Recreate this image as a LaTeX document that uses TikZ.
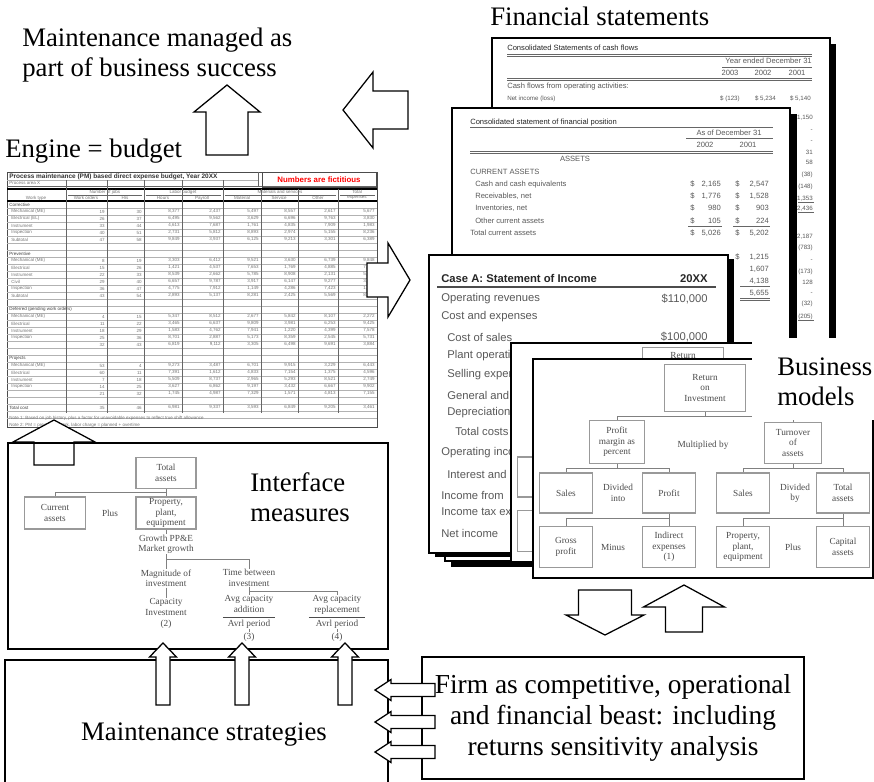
\documentclass[tikz,border=0pt]{standalone}
\usepackage{fontspec}
\setmainfont{Liberation Serif}
\setsansfont{Liberation Sans}
\usetikzlibrary{positioning,calc}

\tikzset{
  bigtext/.style={font=\fontsize{19}{21.5}\selectfont, inner sep=0pt},
  panel/.style={draw, line width=1.3pt},
  sheet/.style={draw, line width=1.2pt, fill=white},
  blockarr/.style={draw, line width=0.9pt, fill=white},
  treebox/.style={draw=black!40, line width=1pt, fill=white, align=center,
    inner sep=1pt, minimum width=1.32cm, minimum height=1cm,
    font=\fontsize{6.6}{7.4}\selectfont, text=black!70},
  treetext/.style={align=center, inner sep=0.5pt,
    font=\fontsize{6.6}{7.4}\selectfont, text=black!70},
  treeline/.style={draw=black!50, line width=0.7pt},
  stmt/.style={font=\sffamily\fontsize{5.4}{6}\selectfont, text=black!65, inner sep=0pt},
  stmtsmall/.style={stmt, font=\sffamily\fontsize{4.4}{5}\selectfont},
  incline/.style={font=\sffamily\fontsize{8}{9}\selectfont, text=black!65, inner sep=0pt},
  cell/.style={font=\sffamily\fontsize{3.2}{3.6}\selectfont, text=black!55, inner sep=0pt},
  gridline/.style={draw=black!30, line width=0.3pt},
  colline/.style={draw=black!60, line width=0.4pt},
  pics/blockarrow/.style n args={4}{code={
    \draw[blockarr] (0,-#2/2) -- (#1-#4,-#2/2) -- (#1-#4,-#3/2) -- (#1,0)
      -- (#1-#4,#3/2) -- (#1-#4,#2/2) -- (0,#2/2) -- cycle;
  }},
  pics/bmpage/.style={code={
    \draw[sheet] (0,0) rectangle (340,219);
    \node[treebox, minimum width=2.02cm, minimum height=1.18cm] (-roi) at (172,29) {Return\\on\\Investment};
    \node[treebox, minimum width=1.38cm, minimum height=1.08cm] (-pm) at (84,83) {Profit\\margin as\\percent};
    \node[treetext] (-mult) at (170,86) {Multiplied by};
    \node[treebox, minimum width=1.42cm, minimum height=1.03cm] (-turn) at (260,84) {Turnover\\of\\assets};
    \node[treebox] (-sales) at (33,134) {Sales};
    \node[treetext] (-into) at (85,134) {Divided\\into};
    \node[treebox] (-profit) at (136,134) {Profit};
    \node[treebox] (-sales2) at (210,134) {Sales};
    \node[treetext] (-by) at (262,134) {Divided\\by};
    \node[treebox] (-total) at (310,134) {Total\\assets};
    \node[treebox, minimum height=1.03cm] (-gross) at (33,188) {Gross\\profit};
    \node[treetext] (-minus) at (80,188) {Minus};
    \node[treebox, minimum height=1.03cm] (-indir) at (136,188) {Indirect\\expenses\\(1)};
    \node[treebox, minimum height=1.03cm] (-ppe) at (210,188) {Property,\\plant,\\equipment};
    \node[treetext] (-plus) at (260,188) {Plus};
    \node[treebox, minimum height=1.03cm] (-cap) at (310,188) {Capital\\assets};
    \draw[treeline] (-roi.south) -- ++(0,4) coordinate (-j1);
    \draw[treeline] (-pm.north) |- (-j1) -| (-turn.north);
    \draw[treeline] (-pm.south) -- ++(0,4) coordinate (-j2);
    \draw[treeline] (-sales.north) |- (-j2) -| (-profit.north);
    \draw[treeline] (-turn.south) -- ++(0,4) coordinate (-j3);
    \draw[treeline] (-sales2.north) |- (-j3) -| (-total.north);
    \draw[treeline] (-profit.south) -- ++(0,5) coordinate (-j4);
    \draw[treeline] (-gross.north) |- (-j4) -| (-indir.north);
    \draw[treeline] (-total.south) -- ++(0,5) coordinate (-j5);
    \draw[treeline] (-ppe.north) |- (-j5) -| (-cap.north);
  }},
}

\begin{document}
\begin{tikzpicture}[x=0.025cm, y=-0.025cm]
\useasboundingbox (0,0) rectangle (874,782);

% headlines
\node[bigtext, align=left, anchor=west] (goal) at (22,55) {Maintenance managed as\\part of business success};
\node[bigtext, anchor=base west] (engine) at (5,157) {Engine = budget};
\node[bigtext, anchor=base west] (fintitle) at (490,26) {Financial statements};
\pic[rotate=90] at (227,155) {blockarrow={70}{42}{66}{27}};
\pic[rotate=180] at (408,110) {blockarrow={65}{38}{76}{30}};

% budget sheet
\draw[black!70, line width=0.5pt] (7,172) rectangle (377,427);
\foreach \r in {1,...,31} \draw[gridline] (7,201+7*\r) -- (377,201+7*\r);
\draw[gridline] (7,180) -- (258,180);
\draw[colline] (7,186) -- (377,186);
\draw[black, line width=0.8pt] (7,189) -- (377,189);
\draw[black, line width=0.8pt] (7,201) -- (377,201);
\foreach \cx in {66,107,144,182,223} \draw[colline] (\cx,180) -- (\cx,413);
\foreach \cx in {261,298,338} \draw[colline] (\cx,189) -- (\cx,413);
\draw[colline] (258,172) -- (258,186);
\foreach \xa/\xb in {68/142,146/221,225/336,340/375} \draw[colline] (\xa,195) -- (\xb,195);
\node[cell, font=\sffamily\bfseries\fontsize{4.6}{5}\selectfont, text=black!80, anchor=west] (sheettitle) at (9,176.5) {Process maintenance (PM) based direct expense budget, Year 20XX};
\node[cell, anchor=west] (sheetarea) at (9,183) {Process area X};
\node[draw=black!70, line width=0.6pt, minimum width=2.85cm, minimum height=0.38cm, inner sep=0pt,
  text=red, font=\sffamily\bfseries\fontsize{5.6}{6}\selectfont] (fict) at (319,180) {Numbers are fictitious};
\foreach \cx/\txt [count=\k] in {105/Number of jobs,183/Labor budget,280/Materials and services,357/Total}
  \node[cell] (grp-\k) at (\cx,192) {\txt};
\foreach \cx/\txt [count=\k] in {36/Work type / Process,86/Work orders,125/Hrs,163/Hours,202/Payroll,242/Material,279/Service,318/Other,357/expenses}
  \node[cell] (hdr-\k) at (\cx,198) {\txt};
\foreach \r/\txt in {0/Corrective,7/Preventive,15/Deferred (pending work orders),22/Projects,29/Total cost}
  \node[cell, text=black!75, anchor=west] (sec-\r) at (9,204.5+7*\r) {\txt};
\foreach \r/\txt in {1/Mechanical (ME),2/Electrical (EL),3/Instrument,4/Inspection,5/Subtotal,
  8/Mechanical (ME),9/Electrical,10/Instrument,11/Civil,12/Inspection,13/Subtotal,
  16/Mechanical (ME),17/Electrical,18/Instrument,19/Inspection,
  23/Mechanical (ME),24/Electrical,25/Instrument,26/Inspection}
  \node[cell, anchor=west] (lab-\r) at (11,204.5+7*\r) {\txt};
\foreach \r in {1,2,3,4,5,8,9,10,11,12,13,16,17,18,19,20,23,24,25,26,27,29}{
  \foreach \c/\cx in {1/105,2/142,3/180,4/221,5/259,6/296,7/336,8/375}{
    \pgfmathtruncatemacro\vs{mod(\r*7+\c*11,60)+1}
    \pgfmathtruncatemacro\vh{mod(\r*7+\c*3,9)+1}
    \pgfmathtruncatemacro\vl{mod(\r*97+\c*53+\r*\c*7,900)+100}
    \ifnum\c<3 \edef\vtxt{\vs}\else \edef\vtxt{\vh,\vl}\fi
    \node[cell, anchor=east] (num-\r-\c) at (\cx,204.5+7*\r) {\vtxt};
  }
}
\node[cell, anchor=west] (note-1) at (9,418.5) {Note 1: Based on job history, plus a factor for unavoidable expenses to reflect true shift allowance};
\node[cell, anchor=west] (note-2) at (9,425) {Note 2: PM = preventive work, labor charge = planned + overtime};
\pic at (367,280) {blockarrow={43}{34}{74}{22}};
\pic[rotate=90] at (54,465) {blockarrow={45}{40}{82}{22}};

% cash flows sheet
\fill (498,44) rectangle (836,349);
\draw[sheet] (492,38) rectangle (830,343);
\node[stmt, text=black!85, anchor=base west] (cftitle) at (507,51) {Consolidated Statements of cash flows};
\draw[black!60, line width=0.5pt] (507,54) -- (812,54) (507,56) -- (812,56);
\node[stmt, anchor=base east] (cfyear) at (812,64) {Year ended December 31};
\draw[black!60, line width=0.5pt] (722,67) -- (812,67);
\foreach \cx/\txt in {730/2003,763/2002,797/2001} \node[stmt, anchor=base] (cfy-\txt) at (\cx,75) {\txt};
\draw[black!60, line width=0.5pt] (507,78) -- (812,78) (507,80) -- (812,80);
\node[stmt, anchor=base west] (cfops) at (507,89) {Cash flows from operating activities:};
\node[stmtsmall, anchor=base west] (cfnet) at (507,100) {Net income (loss)};
\node[stmtsmall, anchor=base east] (cfn1) at (740,100) {\$ (123)};
\node[stmtsmall, anchor=base east] (cfn2) at (776,100) {\$ 5,234};
\node[stmtsmall, anchor=base east] (cfn3) at (811,100) {\$ 5,140};
\foreach \yy/\vv [count=\k] in {119/{1,150},132/-,142/-,154/31,164/58,176/(38),188/(148),200/{1,353},210/{2,436},
  238/{2,187},249/(783),261/-,273/(173),284/128,294/-,305/(32),318/(205)}
  \node[stmtsmall, anchor=base east] (cfc-\k) at (813,\yy) {\vv};
\draw[black!60, line width=0.4pt] (798,202) -- (814,202) (798,212) -- (814,212) (798,320) -- (814,320);

% financial position sheet
\fill (458,114) rectangle (797,349);
\draw[sheet] (452,108) rectangle (790,343);
\node[stmt, text=black!85, anchor=base west] (fptitle) at (470,124) {Consolidated statement of financial position};
\draw[black!60, line width=0.6pt] (470,127) -- (773,127);
\node[stmt, anchor=base] (fpasof) at (729,135) {As of December 31};
\draw[black!60, line width=0.5pt] (686,138) -- (773,138);
\node[stmt, anchor=base] (fpy1) at (705,147) {2002};
\node[stmt, anchor=base] (fpy2) at (748,147) {2001};
\draw[black!60, line width=0.5pt] (470,151) -- (773,151) (470,153) -- (773,153);
\node[stmt, anchor=base] (fpassets) at (575,161) {ASSETS};
\node[stmt, anchor=base west] (fpcur) at (470,174) {CURRENT ASSETS};
\foreach \yy/\xx/\txt/\va/\vb [count=\k] in {186/475/Cash and cash equivalents/{2,165}/{2,547},
  198/475/{Receivables, net}/{1,776}/{1,528},210/475/{Inventories, net}/980/903,
  223/475/Other current assets/105/224,235/470/Total current assets/{5,026}/{5,202}}{
  \node[stmt, anchor=base west] (fpl-\k) at (\xx,\yy) {\txt};
  \node[stmt, anchor=base west] (fpd-\k) at (690,\yy) {\$};
  \node[stmt, anchor=base east] (fpa-\k) at (721,\yy) {\va};
  \node[stmt, anchor=base west] (fpe-\k) at (735,\yy) {\$};
  \node[stmt, anchor=base east] (fpb-\k) at (769,\yy) {\vb};
}
\draw[black!60, line width=0.5pt] (688,226) -- (722,226) (733,226) -- (770,226);
\foreach \yy/\vb [count=\k] in {259/{1,215},271/{1,607},283/{4,138},295/{5,655}}
  \node[stmt, anchor=base east] (fpm-\k) at (769,\yy) {\vb};
\node[stmt, anchor=base west] (fpdol) at (735,259) {\$};
\draw[black!60, line width=0.5pt] (740,286) -- (770,286) (740,298) -- (770,298) (740,300) -- (770,300);

% income statement stack
\fill (451,268) rectangle (732,567);
\draw[sheet] (445,262) rectangle (726,561);
\fill (435,259) rectangle (734,557);
\draw[sheet] (429,255) rectangle (728,553);
\node[incline, font=\sffamily\bfseries\fontsize{8}{9}\selectfont, text=black!85, anchor=base west] (inctitle) at (441,282) {Case A: Statement of Income};
\node[incline, font=\sffamily\bfseries\fontsize{8}{9}\selectfont, text=black!85, anchor=base east] (incyear) at (708,282) {20XX};
\draw[black!70, line width=1.3pt] (437,287) -- (716,287);
\foreach \yy/\xx/\txt [count=\k] in {299/441/Operating revenues,317/441/Cost and expenses,337/447/Cost of sales,
  356/447/Plant operations,375/447/Selling expenses,395/447/General and administrative,
  413/447/Depreciation,433/455/Total costs and expenses,453/441/Operating income,
  474/447/Interest and other income,495/441/Income from,
  513/441/Income tax expense,533/441/Net income}
  \node[incline, anchor=west] (inc-\k) at (\xx,\yy) {\txt};
\node[incline, anchor=east] (increv) at (708,299) {\$110,000};
\node[incline, anchor=east] (inccost) at (708,337) {\$100,000};

% business model sheets
\draw[sheet] (511,343) rectangle (851,562);
\node[treebox, minimum width=2.02cm, minimum height=1.18cm] (bbroi) at (683,371)
  {Return\\\phantom{on}\\\phantom{Investment}\\\phantom{x}};
\node[treebox] (bbsales) at (544,477) {};
\node[treebox, minimum height=1.03cm] (bbgross) at (544,531) {};
\pic (bmfront) at (533,359) {bmpage};
\fill[white] (752,338) rectangle (874,420);
\node[bigtext, align=left, anchor=west] (bmlabel) at (777,382) {Business\\models};

% interface measures
\node[panel, minimum width=9.5cm, minimum height=5.15cm] (ifbox) at (198,546) {};
\node[bigtext, align=left] (iflabel) at (300,497) {Interface\\measures};
\node[treebox, minimum width=1.5cm, minimum height=0.78cm] (itot) at (166,473) {Total\\assets};
\node[treebox, minimum width=1.52cm, minimum height=0.8cm] (icur) at (55,513) {Current\\assets};
\node[treetext] (iplus) at (110,513) {Plus};
\node[treebox, minimum width=1.5cm, minimum height=0.8cm] (ippe) at (166,513) {Property,\\plant,\\equipment};
\node[treetext] (igrow) at (166,544) {Growth PP\&E\\Market growth};
\node[treetext] (imag) at (166,578) {Magnitude of\\investment};
\node[treetext] (itime) at (249,578) {Time between\\investment};
\node[treetext] (icap) at (166,607) {Capacity\\Investment};
\node[treetext] (ieq2) at (166,624) {(2)};
\node[treetext] (iadd) at (249,612) {Avg capacity\\addition\\[-4pt]\rule{1.3cm}{0.4pt}\\[-1pt]Avrl period};
\node[treetext] (ieq3) at (249,637) {(3)};
\node[treetext] (irep) at (337,612) {Avg capacity\\replacement\\[-4pt]\rule{1.4cm}{0.4pt}\\[-1pt]Avrl period};
\node[treetext] (ieq4) at (337,637) {(4)};
\draw[treeline] (itot.south) -- ++(0,3) coordinate (ij1);
\draw[treeline] (icur.north) |- (ij1) -| (ippe.north);
\draw[treeline] (ippe.south) -- (igrow.north);
\draw[treeline] (igrow.south) -- ++(0,5) coordinate (ij2);
\draw[treeline] (imag.north) |- (ij2) -| (itime.north);
\draw[treeline] (imag.south) -- (icap.north);
\draw[treeline] (itime.south) -- ++(0,4) coordinate (ij3);
\draw[treeline] (iadd.north) |- (ij3) -| (irep.north);
\draw[treeline] (iadd.south) -- (ieq3.north);
\draw[treeline] (irep.south) -- (ieq4.north);

% maintenance strategies and the firm
\draw[panel] (5,782) |- (388,660) -- (388,782);
\node[bigtext] (strat) at (204,735) {Maintenance strategies};
\node[panel, minimum width=9.55cm, minimum height=3.05cm, align=center,
  font=\fontsize{19.5}{22}\selectfont] (firm) at (613,718)
  {Firm as competitive, operational\\and financial beast: including\\returns sensitivity analysis};

% block arrows between the panels
\foreach \cx in {163,242,345} \pic[rotate=90] at (\cx,705) {blockarrow={62}{14}{27}{14}};
\foreach \cy in {690,722,752} \pic[rotate=180] at (435,\cy) {blockarrow={60}{13}{21}{16}};
\pic[rotate=-90] at (605,590) {blockarrow={45}{53}{78}{20}};
\pic[rotate=90] at (684,632) {blockarrow={47}{37}{81}{22}};

\end{tikzpicture}
\end{document}
